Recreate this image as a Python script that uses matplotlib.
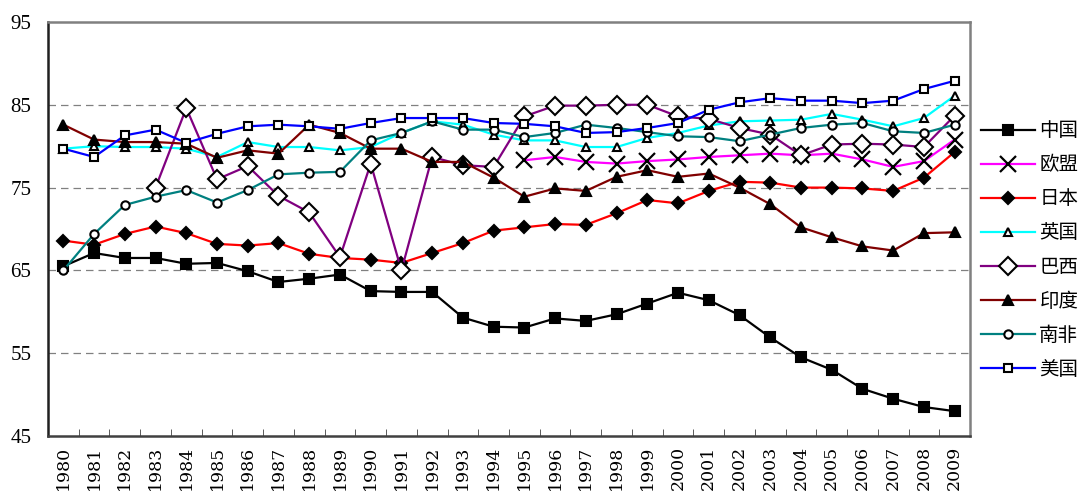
import numpy as np
import matplotlib
matplotlib.use("Agg")
from matplotlib import pyplot as plt

plt.rcParams['font.family'] = ['Noto Sans CJK SC', 'DejaVu Sans']

years = [str(y) for y in range(1980, 2010)]
nan = np.nan

china = [65.5, 67.1, 66.5, 66.5, 65.8, 65.9, 64.9, 63.6, 64.0, 64.5,
         62.5, 62.4, 62.4, 59.3, 58.2, 58.1, 59.2, 58.9, 59.7, 61.0,
         62.3, 61.4, 59.6, 56.9, 54.5, 53.0, 50.7, 49.5, 48.5, 48.0]
eu = [nan] * 15 + [78.3, 78.7, 78.1, 77.9, 78.2,
                   78.4, 78.7, 78.9, 79.1, 78.9, 79.1, 78.4, 77.5, 78.2, 80.8]
japan = [68.6, 68.1, 69.4, 70.3, 69.5, 68.2, 68.0, 68.3, 67.0, 66.5,
         66.3, 65.9, 67.1, 68.3, 69.8, 70.2, 70.6, 70.5, 71.9, 73.5,
         73.1, 74.6, 75.7, 75.6, 75.0, 75.0, 74.9, 74.6, 76.2, 79.3]
uk = [79.7, 80.0, 79.9, 79.9, 79.7, 78.7, 80.5, 79.9, 79.9, 79.5,
      79.9, 81.6, 83.0, 82.6, 81.4, 80.7, 80.7, 79.9, 79.9, 81.0,
      81.6, 82.5, 83.0, 83.1, 83.2, 83.9, 83.2, 82.4, 83.4, 86.1]
brazil = [nan, nan, nan, 75.0, 84.6, 76.0, 77.6, 74.0, 72.0, 66.6,
          77.9, 65.0, 78.7, 77.7, 77.5, 83.6, 84.9, 84.9, 85.0, 85.0,
          83.6, 83.3, 82.2, 81.4, 78.9, 80.2, 80.3, 80.2, 79.9, 83.7]
india = [82.6, 80.8, 80.5, 80.5, 80.3, 78.6, 79.5, 79.1, 82.6, 81.6,
         79.7, 79.7, 78.1, 78.1, 76.2, 73.9, 74.9, 74.6, 76.3, 77.1,
         76.3, 76.7, 75.0, 73.0, 70.2, 69.0, 67.9, 67.4, 69.5, 69.6]
south_africa = [65.0, 69.4, 72.9, 73.9, 74.7, 73.2, 74.7, 76.6, 76.8, 76.9,
                80.7, 81.6, 83.0, 82.0, 82.0, 81.1, 81.6, 82.6, 82.2, 81.7,
                81.2, 81.1, 80.6, 81.4, 82.2, 82.6, 82.8, 81.8, 81.6, 82.6]
usa = [79.7, 78.7, 81.3, 82.0, 80.4, 81.5, 82.4, 82.6, 82.4, 82.1,
       82.8, 83.4, 83.4, 83.4, 82.8, 82.7, 82.4, 81.6, 81.7, 82.2,
       82.8, 84.4, 85.3, 85.8, 85.5, 85.5, 85.2, 85.5, 86.9, 87.9]

names = ["中国", "欧盟", "日本", "英国", "巴西", "印度", "南非", "美国"]
series = [china, eu, japan, uk, brazil, india, south_africa, usa]

# colour, marker, marker size, filled
styles = [
    ("#000000", "s", 7, True),
    ("#FF00FF", "x", 11, False),
    ("#FF0000", "D", 6, True),
    ("#00FFFF", "^", 6, False),
    ("#800080", "D", 9, False),
    ("#800000", "^", 7, True),
    ("#008080", "o", 6, False),
    ("#0000FF", "s", 6, False),
]

fig = plt.figure(figsize=(10.83, 4.93), dpi=100)
ax = fig.add_axes([0.0443, 0.1156, 0.8514, 0.8398])

x = np.arange(len(years))
for name, vals, (col, mk, ms, filled) in zip(names, series, styles):
    if mk == "x":
        ax.plot(x, vals, color=col, lw=1.6, marker=mk, ms=ms, mec="black",
                mew=1.6, label=name, zorder=3)
    else:
        ax.plot(x, vals, color=col, lw=1.6, marker=mk, ms=ms, mec="black",
                mfc="black" if filled else "white", mew=1.5, label=name, zorder=3)

ax.set_xlim(-0.5, len(years) - 0.5)
ax.set_ylim(45, 95)
ax.set_yticks([45, 55, 65, 75, 85, 95])
ax.set_yticklabels(["45", "55", "65", "75", "85", "95"],
                   family="Liberation Serif", fontsize=15)
for yv in [55, 65, 75, 85]:
    ax.axhline(yv, color="#808080", lw=0.9, ls=(0, (6, 4)), zorder=1)

ax.set_xticks(x)
ax.set_xticklabels(years, rotation=90, family="DejaVu Serif", fontsize=12.5)
ax.set_xticks(np.arange(len(years) + 1) - 0.5, minor=True)
ax.tick_params(axis="x", which="major", length=0, pad=7)
ax.tick_params(axis="x", which="minor", direction="in", length=5, color="#404040")
ax.tick_params(axis="y", length=0, pad=12)

for side in ["top", "right", "bottom"]:
    ax.spines[side].set_color("#808080")
    ax.spines[side].set_linewidth(1.8)
ax.spines["left"].set_color("#202020")
ax.spines["left"].set_linewidth(1.8)
ax.spines["bottom"].set_color("#404040")

fig.legend(*ax.get_legend_handles_labels(), loc="center left",
           bbox_to_anchor=(981 / 1083, 1 - 250 / 493), frameon=False,
           fontsize=14, handlelength=2.8, labelspacing=0.67, handletextpad=0.2,
           borderpad=0, borderaxespad=0)

fig.savefig("out.png", dpi=100)
